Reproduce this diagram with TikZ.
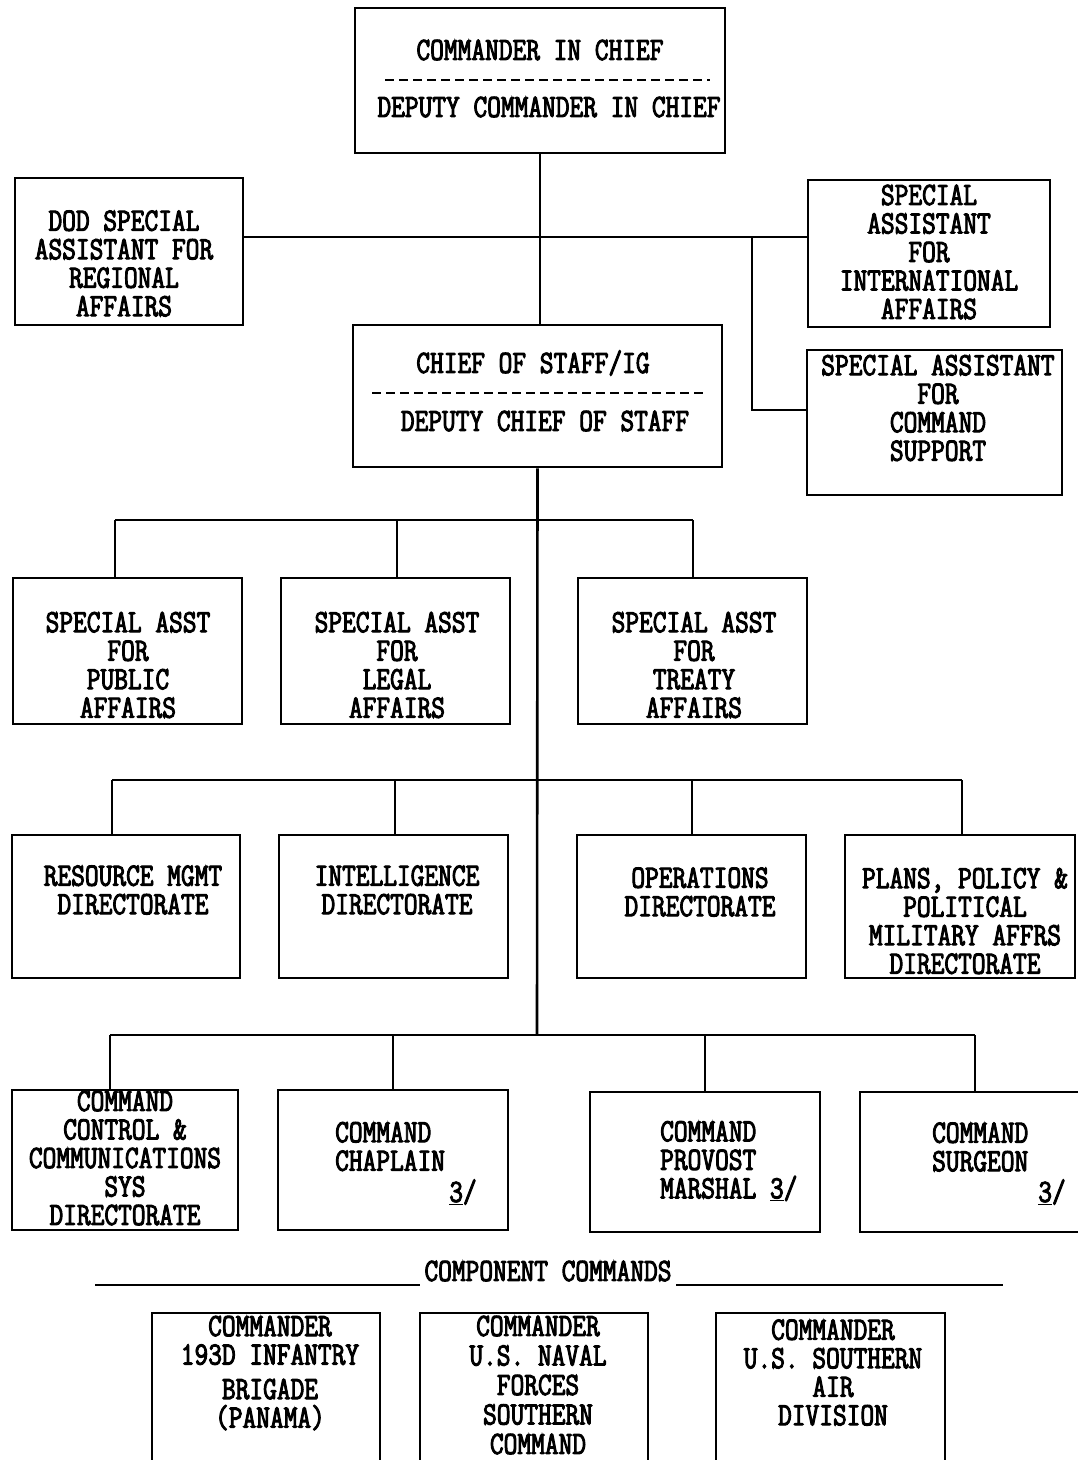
\documentclass[tikz,border=0pt]{standalone}
\usepackage{fontspec}
\newfontfamily\tw{Latin Modern Mono}[FakeStretch=0.82, FakeBold=3]
\begin{document}
\begin{tikzpicture}[x=1pt,y=-1pt,
  box/.style={draw, rectangle, line width=2.6pt, inner sep=0pt},
  txt/.style={font=\tw\fontsize{32.5}{28.5}\selectfont, align=center, inner sep=0pt},
  ltxt/.style={txt, align=left, anchor=west},
  conn/.style={line width=2.6pt},
  dashsep/.style={line width=2pt, dash pattern=on 9pt off 5pt}]
\useasboundingbox (0,0) rectangle (1078,1460);
\clip (0,0) rectangle (1078,1460);
\fill[white] (0,0) rectangle (1078,1460);

% ---- boxes ----
\node[box, minimum width=370, minimum height=145] (cinc) at (540,80.5) {};
\node[box, minimum width=369, minimum height=142] (cos) at (537.5,396) {};
\node[box, minimum width=228, minimum height=147] (dod) at (129,251.5) {};
\node[box, minimum width=242, minimum height=147] (sai) at (929,253.5) {};
\node[box, minimum width=255, minimum height=145] (sacs) at (934.5,422.5) {};
\node[box, minimum width=229, minimum height=146] (pub) at (127.5,651) {};
\node[box, minimum width=229, minimum height=146] (legal) at (395.5,651) {};
\node[box, minimum width=229, minimum height=146] (treaty) at (692.5,651) {};
\node[box, minimum width=228, minimum height=143] (res) at (126,906.5) {};
\node[box, minimum width=229, minimum height=143] (intel) at (393.5,906.5) {};
\node[box, minimum width=229, minimum height=143] (ops) at (691.5,906.5) {};
\node[box, minimum width=230, minimum height=143] (plans) at (960,906.5) {};
\node[box, minimum width=226, minimum height=140] (c3) at (125,1160) {};
\node[box, minimum width=230, minimum height=140] (chap) at (393,1160) {};
\node[box, minimum width=230, minimum height=140] (prov) at (705,1162) {};
\node[box, minimum width=230, minimum height=140] (surg) at (975,1162) {};
\node[box, minimum width=228, minimum height=187] (bde) at (266,1406.5) {};
\node[box, minimum width=228, minimum height=187] (navy) at (534,1406.5) {};
\node[box, minimum width=229, minimum height=187] (air) at (830.5,1406.5) {};

% ---- texts ----
\node[txt] (cinc-a) at (540,50) {COMMANDER IN CHIEF};
\node[txt] (cinc-b) at (549,107) {DEPUTY COMMANDER IN CHIEF};
\draw[dashsep] (385,80) -- (710,80);
\node[txt] (cos-a) at (533,363) {CHIEF OF STAFF/IG};
\node[txt] (cos-b) at (545,421) {DEPUTY CHIEF OF STAFF};
\draw[dashsep] (372,393) -- (705,393);

\node[txt] (dod-t) at (124,263.5) {DOD SPECIAL\\ASSISTANT FOR\\REGIONAL\\AFFAIRS};
\node[txt] (sai-t) at (929,252) {SPECIAL\\ASSISTANT\\FOR\\INTERNATIONAL\\AFFAIRS};
\node[txt] (sacs-t) at (938,408) {SPECIAL ASSISTANT\\FOR\\COMMAND\\SUPPORT};

\node[txt] (pub-t) at (128,665) {SPECIAL ASST\\FOR\\PUBLIC\\AFFAIRS};
\node[txt] (legal-t) at (397,665) {SPECIAL ASST\\FOR\\LEGAL\\AFFAIRS};
\node[txt] (treaty-t) at (694,665) {SPECIAL ASST\\FOR\\TREATY\\AFFAIRS};

\node[txt] (res-t) at (133,890) {RESOURCE MGMT\\DIRECTORATE};
\node[txt] (intel-t) at (397,890) {INTELLIGENCE\\DIRECTORATE};
\node[txt] (ops-t) at (700,892) {OPERATIONS\\DIRECTORATE};
\node[txt] (plans-t) at (965,921) {PLANS, POLICY \&\\POLITICAL\\MILITARY AFFRS\\DIRECTORATE};

\node[txt] (c3-t) at (125,1158) {COMMAND\\CONTROL \&\\COMMUNICATIONS\\SYS\\DIRECTORATE};
\node[ltxt] (chap-t) at (335,1146.5) {COMMAND\\CHAPLAIN};
\node[txt] (chap-n) at (463,1192) {\underline{3}/};
\node[ltxt] (prov-t) at (660,1161) {COMMAND\\PROVOST\\MARSHAL \underline{3}/};
\node[ltxt] (surg-t) at (932,1147) {COMMAND\\SURGEON};
\node[txt] (surg-n) at (1052,1192) {\underline{3}/};

\node[txt] (cc) at (548,1271) {COMPONENT COMMANDS};
\draw[line width=2pt] (95,1285) -- (420,1285);
\draw[line width=2pt] (676,1285) -- (1003,1285);

\node[txt] (bde-t) at (270,1373) {COMMANDER\\193D INFANTRY\\[6pt]BRIGADE\\(PANAMA)};
\node[txt, font=\tw\fontsize{32.5}{29.5}\selectfont] (navy-t) at (538,1385) {COMMANDER\\U.S. NAVAL\\FORCES\\SOUTHERN\\COMMAND};
\node[txt] (air-t) at (833,1372.5) {COMMANDER\\U.S. SOUTHERN\\AIR\\DIVISION};

% ---- connectors ----
\coordinate (j1) at (540,237);
\coordinate (j2) at (752,237);
\coordinate (j3) at (752,410);
\draw[conn] (cinc.south) -- (cinc.south |- cos.north);
\draw[conn] (dod.east |- j1) -- (sai.west |- j1);
\draw[conn] (j2) -- (j3) -- (sacs.west |- j3);

\coordinate (trunk) at (537,1035);
\draw[conn] (cos.south) -- (trunk);

% row 1
\coordinate (r1a) at (115,520);
\coordinate (r1b) at (397,520);
\coordinate (r1c) at (693,520);
\draw[conn] (r1a) -- (r1c);
\draw[conn] (r1a) -- (r1a |- pub.north);
\draw[conn] (r1b) -- (r1b |- legal.north);
\draw[conn] (r1c) -- (r1c |- treaty.north);

% row 2
\coordinate (r2a) at (112,780);
\coordinate (r2b) at (395,780);
\coordinate (r2c) at (692,780);
\coordinate (r2d) at (962,780);
\draw[conn] (r2a) -- (r2d);
\draw[conn] (r2a) -- (r2a |- res.north);
\draw[conn] (r2b) -- (r2b |- intel.north);
\draw[conn] (r2c) -- (r2c |- ops.north);
\draw[conn] (r2d) -- (r2d |- plans.north);

% row 3
\coordinate (r3a) at (110,1035);
\coordinate (r3b) at (393,1035);
\coordinate (r3c) at (705,1035);
\coordinate (r3d) at (975,1035);
\draw[conn] (r3a) -- (r3d);
\draw[conn] (r3a) -- (r3a |- c3.north);
\draw[conn] (r3b) -- (r3b |- chap.north);
\draw[conn] (r3c) -- (r3c |- prov.north);
\draw[conn] (r3d) -- (r3d |- surg.north);
\end{tikzpicture}
\end{document}
